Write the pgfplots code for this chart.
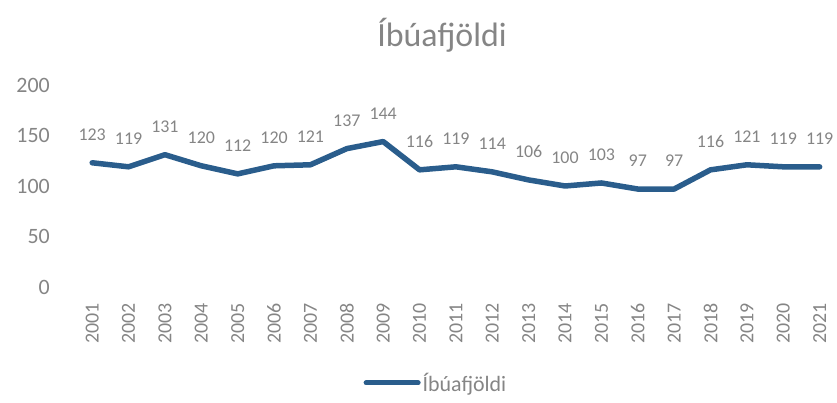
\documentclass[border=0pt]{standalone}
\usepackage{fontspec}
\setmainfont{Carlito}
\usepackage{pgfplots}
\pgfplotsset{compat=1.18}
\definecolor{linecol}{HTML}{2A5D8C}
\definecolor{txtgray}{HTML}{858585}
\begin{document}
\begin{tikzpicture}
\useasboundingbox (0,0) rectangle (837bp,403bp);
\begin{axis}[
  at={(74bp,116bp)}, anchor=south west,
  scale only axis, width=762bp, height=202bp,
  xmin=0.5, xmax=21.45, ymin=0, ymax=200,
  axis line style={draw=none},
  tick style={draw=none},
  ytick={0,50,100,150,200},
  xtick={1,...,21},
  xticklabels={2001,2002,2003,2004,2005,2006,2007,2008,2009,2010,2011,2012,2013,2014,2015,2016,2017,2018,2019,2020,2021},
  /pgf/number format/assume math mode=true,
  yticklabel style={font=\fontsize{22}{24}\selectfont, text=txtgray, inner sep=0pt, anchor=east},
  yticklabel shift=24bp,
  xticklabel style={font=\fontsize{20}{22}\selectfont, text=txtgray, inner sep=0pt, rotate=90, anchor=east},
  xticklabel shift=16bp,
  clip=false,
  nodes near coords,
  every node near coord/.append style={font=\fontsize{18}{20}\selectfont, text=txtgray, anchor=center, yshift=28bp, inner sep=0pt},
  legend style={draw=none, at={(0.475,-0.475)}, anchor=center, font=\fontsize{22}{24}\selectfont, text=txtgray, inner sep=0pt},
  legend image code/.code={\draw[#1, line width=5bp] (0bp,0bp) -- (52bp,0bp);},
]
\addplot[linecol, line width=5.5bp, line join=round, line cap=round, mark=none] coordinates {
(1,123) (2,119) (3,131) (4,120) (5,112) (6,120) (7,121) (8,137) (9,144) (10,116) (11,119) (12,114) (13,106) (14,100) (15,103) (16,97) (17,97) (18,116) (19,121) (20,119) (21,119)
};
\addlegendentry{Íbúafjöldi}
\end{axis}
\node[text=txtgray, font=\fontsize{34}{38}\selectfont, inner sep=0pt] at (442bp,368bp) {Íbúafjöldi};
\end{tikzpicture}
\end{document}
